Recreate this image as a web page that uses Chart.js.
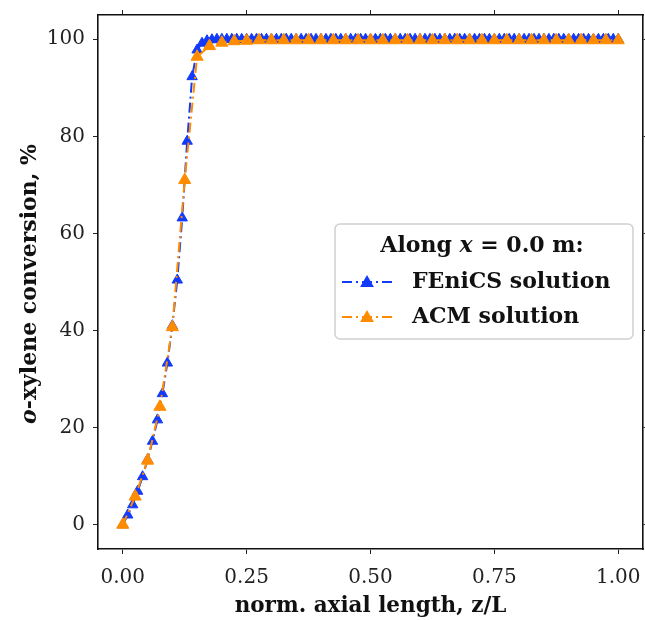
<!DOCTYPE html>
<html>
<head>
<meta charset="utf-8">
<script src="https://cdn.jsdelivr.net/npm/chart.js@4.4.0/dist/chart.umd.min.js"></script>
<style>
html, body { margin: 0; padding: 0; background: #fff; }
#wrap { width: 645px; height: 620px; }
</style>
</head>
<body>
<div id="wrap"><canvas id="convChart" width="645" height="620"></canvas></div>
<script>
// FEniCS solution, one point every 0.01 of z/L
var zFenics = [0.00, 0.01, 0.02, 0.03, 0.04, 0.05, 0.06, 0.07, 0.08, 0.09,
               0.10, 0.11, 0.12, 0.13, 0.14, 0.15, 0.16, 0.17, 0.18, 0.19,
               0.20, 0.21, 0.22, 0.23, 0.24, 0.25, 0.26, 0.27, 0.28, 0.29,
               0.30, 0.31, 0.32, 0.33, 0.34, 0.35, 0.36, 0.37, 0.38, 0.39,
               0.40, 0.41, 0.42, 0.43, 0.44, 0.45, 0.46, 0.47, 0.48, 0.49,
               0.50, 0.51, 0.52, 0.53, 0.54, 0.55, 0.56, 0.57, 0.58, 0.59,
               0.60, 0.61, 0.62, 0.63, 0.64, 0.65, 0.66, 0.67, 0.68, 0.69,
               0.70, 0.71, 0.72, 0.73, 0.74, 0.75, 0.76, 0.77, 0.78, 0.79,
               0.80, 0.81, 0.82, 0.83, 0.84, 0.85, 0.86, 0.87, 0.88, 0.89,
               0.90, 0.91, 0.92, 0.93, 0.94, 0.95, 0.96, 0.97, 0.98, 0.99, 1.00];
var convFenics = [0, 2.0, 4.1, 6.9, 9.9, 13.4, 17.2, 21.6, 27.0, 33.3,
                  41.0, 50.4, 63.2, 79.0, 92.3, 97.8, 99.2, 99.7, 99.9, 100,
                  100, 100, 100, 100, 100, 100, 100, 100, 100, 100,
                  100, 100, 100, 100, 100, 100, 100, 100, 100, 100,
                  100, 100, 100, 100, 100, 100, 100, 100, 100, 100,
                  100, 100, 100, 100, 100, 100, 100, 100, 100, 100,
                  100, 100, 100, 100, 100, 100, 100, 100, 100, 100,
                  100, 100, 100, 100, 100, 100, 100, 100, 100, 100,
                  100, 100, 100, 100, 100, 100, 100, 100, 100, 100,
                  100, 100, 100, 100, 100, 100, 100, 100, 100, 100, 100];

// ACM solution, one point every 0.025
var zAcm = [0.000, 0.025, 0.050, 0.075, 0.100, 0.125, 0.150, 0.175, 0.200, 0.225,
            0.250, 0.275, 0.300, 0.325, 0.350, 0.375, 0.400, 0.425, 0.450, 0.475,
            0.500, 0.525, 0.550, 0.575, 0.600, 0.625, 0.650, 0.675, 0.700, 0.725,
            0.750, 0.775, 0.800, 0.825, 0.850, 0.875, 0.900, 0.925, 0.950, 0.975, 1.000];
var convAcm = [0, 5.8, 13.2, 24.3, 40.7, 71.0, 96.4, 98.6, 99.3, 99.6,
               99.7, 99.8, 99.8, 99.8, 99.8, 99.8, 99.8, 99.8, 99.8, 99.8,
               99.8, 99.8, 99.8, 99.8, 99.8, 99.8, 99.8, 99.8, 99.8, 99.8,
               99.8, 99.8, 99.8, 99.8, 99.8, 99.8, 99.8, 99.8, 99.8, 99.8, 99.8];

var xTicks = [0, 0.25, 0.5, 0.75, 1.0];
var xTickLabels = ['0.00', '0.25', '0.50', '0.75', '1.00'];
var yTicks = [0, 20, 40, 60, 80, 100];

var blue = 'rgb(18,58,250)';
var orange = 'rgb(255,140,0)';
var dashDot = [10, 4, 2, 4];
var serif = '"DejaVu Serif", serif';

function pairs(xs, ys) {
    return xs.map(function(x, i) { return {x: x, y: ys[i]}; });
}

function setTicks(list) {
    return function(scale) {
        scale.ticks = list.map(function(v) { return {value: v}; });
    };
}

// fixed axis size, and no extra room asked for the end labels
function fixSize(w, h) {
    return function(s) {
        if (w !== null) s.width = w;
        if (h !== null) s.height = h;
        s.paddingLeft = 0; s.paddingRight = 0;
        s.paddingTop = 0; s.paddingBottom = 0;
    };
}

// draws a row of text pieces with their own fonts, centred on cx
function drawRuns(ctx, runs, cx, cy) {
    var total = 0;
    runs.forEach(function(r) { ctx.font = r.font; r.w = ctx.measureText(r.text).width; total += r.w; });
    var x = cx - total / 2;
    ctx.textBaseline = 'middle';
    ctx.textAlign = 'left';
    runs.forEach(function(r) { ctx.font = r.font; ctx.fillText(r.text, x, cy); x += r.w; });
}

var yTitle = {
    id: 'yTitle',
    afterDraw: function(chart) {
        var ctx = chart.ctx;
        ctx.save();
        ctx.fillStyle = '#111';
        ctx.translate(30, 284);
        ctx.rotate(-Math.PI / 2);
        drawRuns(ctx, [
            {text: 'o', font: 'italic bold 22px ' + serif},
            {text: '-xylene conversion, %', font: 'bold 22px ' + serif}
        ], 0, 0);
        ctx.restore();
    }
};

var legendBox = {
    id: 'legendBox',
    afterDraw: function(chart) {
        var ctx = chart.ctx;
        var x0 = 335, y0 = 224, w = 298, h = 115, r = 5;
        var lb = 'bold 22px ' + serif;
        ctx.save();
        ctx.beginPath();
        ctx.moveTo(x0 + r, y0);
        ctx.arcTo(x0 + w, y0, x0 + w, y0 + h, r);
        ctx.arcTo(x0 + w, y0 + h, x0, y0 + h, r);
        ctx.arcTo(x0, y0 + h, x0, y0, r);
        ctx.arcTo(x0, y0, x0 + w, y0, r);
        ctx.closePath();
        ctx.fillStyle = 'rgba(255,255,255,0.85)';
        ctx.fill();
        ctx.strokeStyle = '#d0d0d0';
        ctx.lineWidth = 1.5;
        ctx.stroke();

        ctx.fillStyle = '#111';
        drawRuns(ctx, [
            {text: 'Along ', font: lb},
            {text: 'x', font: 'italic ' + lb},
            {text: ' = 0.0 m:', font: lb}
        ], 482, 246);

        var items = chart.data.datasets.slice().sort(function(a, b) { return b.order - a.order; });
        items.forEach(function(ds, i) {
            var y = 282 + i * 35;
            ctx.save();
            ctx.strokeStyle = ds.borderColor;
            ctx.lineWidth = ds.borderWidth;
            ctx.setLineDash(ds.borderDash);
            ctx.beginPath();
            ctx.moveTo(342, y);
            ctx.lineTo(392, y);
            ctx.stroke();
            ctx.setLineDash([]);
            ctx.fillStyle = ds.pointBackgroundColor;
            ctx.strokeStyle = ds.pointBorderColor;
            Chart.helpers.drawPoint(ctx, {pointStyle: 'triangle', radius: 6, borderWidth: 1}, 367, y + 1);
            ctx.restore();
            ctx.fillStyle = '#111';
            ctx.font = lb;
            ctx.textAlign = 'left';
            ctx.textBaseline = 'middle';
            ctx.fillText(ds.label, 412, y);
        });
        ctx.restore();
    }
};

var tickGrid = {drawOnChartArea: false, drawTicks: true, tickLength: 5, color: '#222', lineWidth: 1};
var frame = {display: true, color: '#111', width: 1.6};

new Chart(document.getElementById('convChart'), {
    type: 'line',
    data: {
        datasets: [
            {
                label: 'FEniCS solution',
                data: pairs(zFenics, convFenics),
                borderColor: blue,
                backgroundColor: blue,
                pointBackgroundColor: blue,
                pointBorderColor: blue,
                borderWidth: 2,
                borderDash: dashDot,
                pointStyle: 'triangle',
                pointRadius: 6,
                pointBorderWidth: 1,
                fill: false,
                order: 2
            },
            {
                label: 'ACM solution',
                data: pairs(zAcm, convAcm),
                borderColor: orange,
                backgroundColor: orange,
                pointBackgroundColor: orange,
                pointBorderColor: orange,
                borderWidth: 2,
                borderDash: dashDot,
                pointStyle: 'triangle',
                pointRadius: 7,
                pointBorderWidth: 1,
                fill: false,
                order: 1
            }
        ]
    },
    options: {
        responsive: false,
        animation: false,
        devicePixelRatio: 1,
        layout: {padding: 0, autoPadding: false},
        plugins: {
            legend: {display: false},
            tooltip: {enabled: false}
        },
        scales: {
            x: {
                type: 'linear', position: 'bottom', min: -0.05, max: 1.05,
                afterBuildTicks: setTicks(xTicks),
                afterFit: fixSize(null, 71),
                grid: tickGrid, border: frame,
                ticks: {
                    padding: 12, color: '#222', font: {family: serif, size: 20},
                    maxRotation: 0,
                    callback: function(v, i) { return xTickLabels[i]; }
                },
                title: {
                    display: true, text: 'norm. axial length, z/L', color: '#111',
                    font: {family: serif, size: 21.5, weight: 'bold'},
                    padding: {top: 0, bottom: 1}
                }
            },
            xTop: {
                type: 'linear', position: 'top', min: -0.05, max: 1.05,
                afterBuildTicks: setTicks(xTicks),
                afterFit: fixSize(null, 15),
                grid: tickGrid, border: frame,
                ticks: {display: false}
            },
            y: {
                type: 'linear', position: 'left', min: -5, max: 105,
                afterBuildTicks: setTicks(yTicks),
                afterFit: fixSize(98, null),
                grid: tickGrid, border: frame,
                ticks: {padding: 8, color: '#222', font: {family: serif, size: 20}}
            },
            yRight: {
                type: 'linear', position: 'right', min: -5, max: 105,
                afterBuildTicks: setTicks(yTicks),
                afterFit: fixSize(2, null),
                grid: tickGrid, border: frame,
                ticks: {display: false}
            }
        }
    },
    plugins: [yTitle, legendBox]
});
</script>
</body>
</html>
